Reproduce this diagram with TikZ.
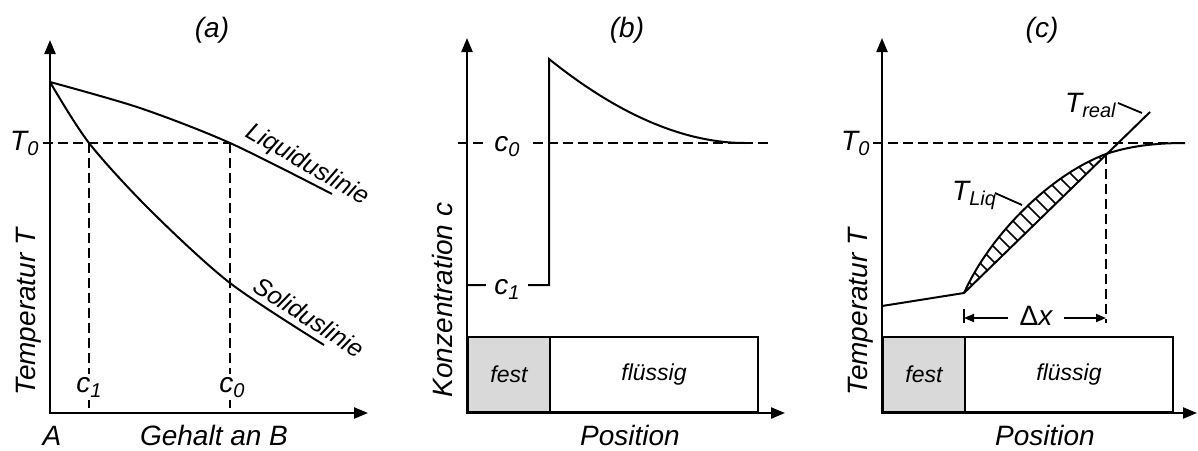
\documentclass[tikz,border=0pt]{standalone}
\usepackage{fontspec}
\setmainfont{Liberation Sans}
\usetikzlibrary{arrows.meta}
\definecolor{festgray}{RGB}{217,217,217}
\newcommand\lsub[1]{\raisebox{-5pt}{\fontsize{20}{20}\selectfont #1}}
\begin{document}
\begin{tikzpicture}[x=1pt,y=-1pt,
  axes/.style={line width=2.2pt,{Triangle[length=14pt,width=11pt]}-{Triangle[length=14pt,width=11pt]}},
  curve/.style={line width=2pt},
  dashline/.style={line width=1.8pt,dash pattern=on 9.5pt off 5.5pt},
  lab/.style={font={\fontsize{28}{32}\selectfont\itshape},inner sep=0pt},
  clab/.style={lab,fill=white,inner xsep=8pt,inner ysep=3pt},
  boxlab/.style={font={\fontsize{23}{26}\selectfont\itshape},draw,line width=1.9pt,inner sep=0pt,anchor=south west,minimum height=75pt},
  dimarrow/.style={line width=1.9pt,-{Triangle[length=10pt,width=8pt]}},
  hatch/.style={line width=1.7pt},
  leader/.style={line width=1.8pt}]
\useasboundingbox (0,0) rectangle (1198,450);

% ---------------- panel (a) ----------------
\coordinate (aO) at (50,413);
\coordinate (aY) at (50,40);
\coordinate (aX) at (368,413);
\coordinate (aT0) at (43,143);
\coordinate (aL0) at (230,143);
\coordinate (aS0) at (89,143);
\coordinate (aS0b) at (89,413);
\coordinate (aL0b) at (230,413);
\draw[dashline] (aT0) -- (aL0);
\draw[dashline] (aS0) -- (aS0b);
\draw[dashline] (aL0) -- (aL0b);
\draw[curve] plot[smooth] coordinates {(50,82) (140,108) (230,143) (332,194)};
\draw[curve] plot[smooth] coordinates {(50,82) (89,143) (150,210) (230,283) (324,345)};
\draw[axes] (aY) -- (aO) -- (aX);
\node[lab,anchor=base] (ta) at (212,37) {(a)};
\node[lab,anchor=base west] (aT0l) at (10,150) {T\lsub{0}};
\node[clab,anchor=base] (ac1) at (89,392) {c\lsub{1}};
\node[clab,anchor=base] (ac0) at (232,392) {c\lsub{0}};
\node[lab,anchor=base] (aA) at (52,445) {A};
\node[lab,anchor=base] (aGB) at (214,445) {Gehalt an B};
\node[lab,anchor=base,rotate=90] (aTT) at (35,312) {Temperatur T};
\node[lab,rotate=-30,font={\fontsize{25}{28}\selectfont\itshape}] (aliq) at (307,165) {Liquiduslinie};
\node[lab,rotate=-33,font={\fontsize{25}{28}\selectfont\itshape}] (asol) at (309,317) {Soliduslinie};

% ---------------- panel (b) ----------------
\node[boxlab,fill=festgray,minimum width=82pt] (bfest) at (467,413) {fest};
\node[boxlab,minimum width=208pt] (bfl) at (549,413) {flüssig};
\coordinate (bO) at (467,413);
\coordinate (bY) at (467,38);
\coordinate (bX) at (785,413);
\coordinate (bc0a) at (458,143);
\coordinate (bc0b) at (768,143);
\draw[dashline] (bc0a) -- (bc0b);
\coordinate (bc1) at (467,285);
\coordinate (bk1) at (549,285);
\coordinate (bk2) at (549,59);
\coordinate (bend) at (745,143);
\draw[curve] (bc1) -- (bk1) -- (bk2) .. controls (600,100) and (670,143) .. (bend);
\draw[axes] (bY) -- (bO) -- (bX);
\node[clab,anchor=base] (bc0l) at (507,151) {c\lsub{0}};
\node[clab,anchor=base] (bc1l) at (507,294) {c\lsub{1}};
\node[lab,anchor=base] (tb) at (627,37) {(b)};
\node[lab,anchor=base,rotate=90] (bK) at (452,300) {Konzentration c};
\node[lab,anchor=base] (bP) at (630,445) {Position};

% ---------------- panel (c) ----------------
\node[boxlab,fill=festgray,minimum width=82pt] (cfest) at (882,413) {fest};
\node[boxlab,minimum width=208pt] (cfl) at (964,413) {flüssig};
\coordinate (cO) at (882,413);
\coordinate (cY) at (882,38);
\coordinate (cX) at (1197,413);
\coordinate (cT0a) at (873,143);
\coordinate (cT0b) at (1188,143);
\draw[dashline] (cT0a) -- (cT0b);
\coordinate (cs) at (882,306);
\coordinate (ck) at (964,293);
\coordinate (cx) at (1106,154);
\coordinate (creal) at (1150,112);
\coordinate (cliqend) at (1185,143);
\begin{scope}
  \clip (ck) .. controls (990,235) and (1050,175) .. (cx) -- cycle;
  \foreach \k in {672,687,...,957}
    \draw[hatch] (\k+100,100) -- (\k+350,350);
\end{scope}
\draw[curve] (cs) -- (ck) -- (creal);
\draw[curve] (ck) .. controls (990,235) and (1050,175) .. (cx) .. controls (1130,146) and (1155,143) .. (cliqend);
\coordinate (cxb) at (1106,323);
\coordinate (ckt) at (964,309);
\coordinate (ckb) at (964,323);
\draw[dashline] (cx) -- (cxb);
\draw[line width=1.8pt] (ckt) -- (ckb);
\node[lab,anchor=base,inner xsep=11pt] (dx) at (1036,325) {{\upshape Δ}x};
\coordinate (dL) at (964,318);
\coordinate (dR) at (1106,318);
\draw[dimarrow] (dx.west |- dL) -- (dL);
\draw[dimarrow] (dx.east |- dR) -- (dR);
\node[lab,anchor=base west] (cTr) at (1065,112) {T\lsub{real}};
\coordinate (cTra) at (1118,103);
\coordinate (cTrb) at (1142,113);
\draw[leader] (cTra) -- (cTrb);
\node[lab,anchor=base west] (cTl) at (952,200) {T\lsub{Liq}};
\coordinate (cTla) at (995,193);
\coordinate (cTlb) at (1022,205);
\draw[leader] (cTla) -- (cTlb);
\draw[axes] (cY) -- (cO) -- (cX);
\node[lab,anchor=base west] (cT0l) at (841,150) {T\lsub{0}};
\node[lab,anchor=base] (tc) at (1042,37) {(c)};
\node[lab,anchor=base,rotate=90] (cTT) at (867,312) {Temperatur T};
\node[lab,anchor=base] (cP) at (1045,445) {Position};
\end{tikzpicture}
\end{document}
